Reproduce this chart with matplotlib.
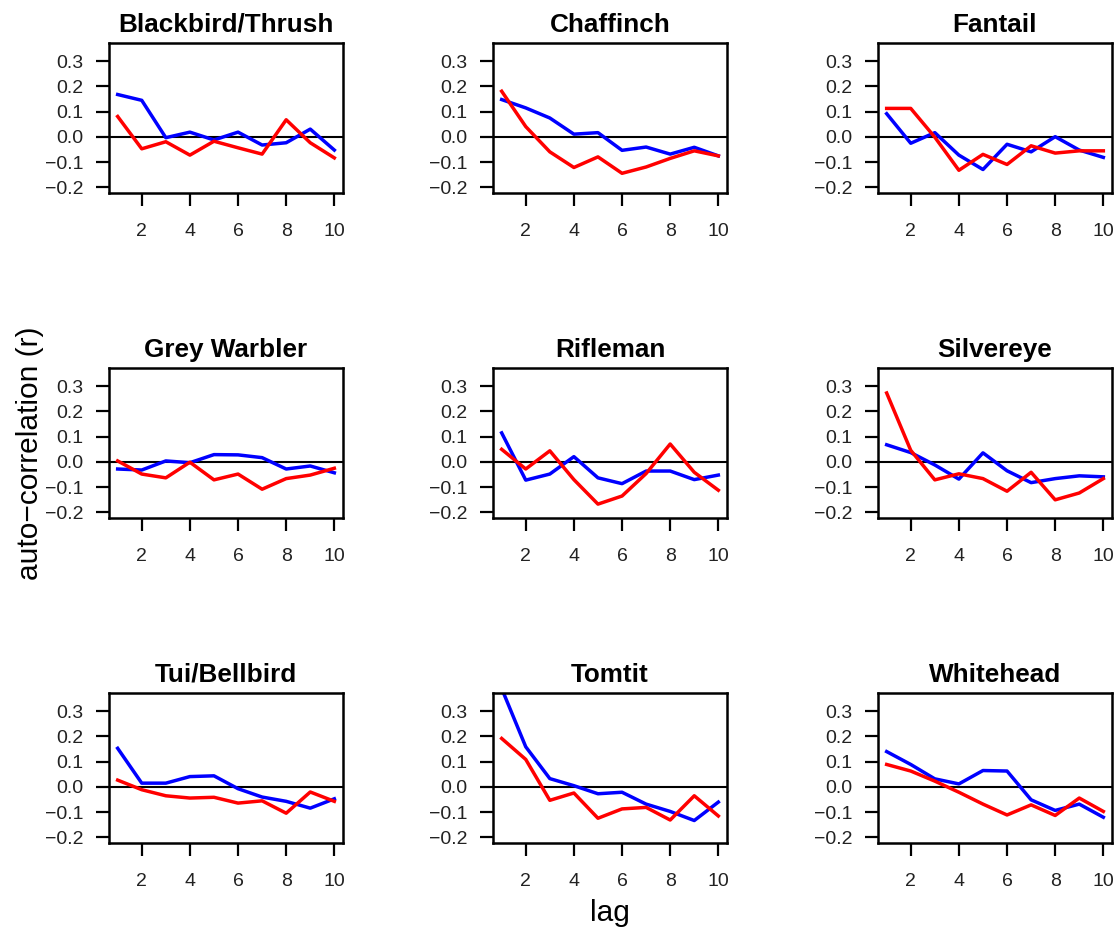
import matplotlib
matplotlib.use("Agg")
import matplotlib.pyplot as plt
import numpy as np

plt.rcParams['font.family'] = ['Liberation Sans', 'DejaVu Sans']

lags = [1, 2, 3, 4, 5, 6, 7, 8, 9, 10]
species = ["Blackbird/Thrush", "Chaffinch", "Fantail",
           "Grey Warbler", "Rifleman", "Silvereye",
           "Tui/Bellbird", "Tomtit", "Whitehead"]

blue_blackbird = [0.168, 0.145, -0.003, 0.019, -0.012, 0.019, -0.032, -0.023, 0.031, -0.052]
red_blackbird = [0.081, -0.047, -0.019, -0.072, -0.017, -0.043, -0.068, 0.068, -0.023, -0.083]
blue_chaffinch = [0.148, 0.115, 0.075, 0.011, 0.017, -0.053, -0.040, -0.068, -0.041, -0.075]
red_chaffinch = [0.181, 0.041, -0.059, -0.121, -0.079, -0.144, -0.119, -0.085, -0.055, -0.075]
blue_fantail = [0.092, -0.025, 0.017, -0.072, -0.129, -0.029, -0.059, 0.001, -0.052, -0.081]
red_fantail = [0.113, 0.113, -0.001, -0.132, -0.069, -0.109, -0.035, -0.064, -0.055, -0.055]
blue_greywarbler = [-0.028, -0.032, 0.004, -0.003, 0.029, 0.028, 0.017, -0.028, -0.016, -0.043]
red_greywarbler = [0.004, -0.048, -0.063, -0.001, -0.071, -0.048, -0.108, -0.066, -0.052, -0.025]
blue_rifleman = [0.115, -0.072, -0.048, 0.021, -0.063, -0.086, -0.036, -0.036, -0.070, -0.052]
red_rifleman = [0.050, -0.028, 0.044, -0.070, -0.167, -0.135, -0.046, 0.071, -0.041, -0.112]
blue_silvereye = [0.068, 0.037, -0.012, -0.068, 0.036, -0.035, -0.082, -0.066, -0.055, -0.059]
red_silvereye = [0.273, 0.046, -0.071, -0.047, -0.066, -0.116, -0.041, -0.150, -0.123, -0.066]
blue_tui = [0.153, 0.015, 0.015, 0.041, 0.044, -0.007, -0.040, -0.057, -0.084, -0.047]
red_tui = [0.027, -0.011, -0.035, -0.044, -0.041, -0.064, -0.055, -0.104, -0.020, -0.057]
blue_tomtit = [0.390, 0.159, 0.033, 0.005, -0.027, -0.021, -0.068, -0.097, -0.133, -0.060]
red_tomtit = [0.192, 0.109, -0.053, -0.024, -0.124, -0.087, -0.081, -0.131, -0.035, -0.115]
blue_whitehead = [0.140, 0.089, 0.032, 0.012, 0.065, 0.063, -0.051, -0.093, -0.068, -0.120]
red_whitehead = [0.089, 0.063, 0.023, -0.021, -0.068, -0.111, -0.071, -0.113, -0.044, -0.097]

blue_series = [blue_blackbird, blue_chaffinch, blue_fantail, blue_greywarbler,
               blue_rifleman, blue_silvereye, blue_tui, blue_tomtit, blue_whitehead]
red_series = [red_blackbird, red_chaffinch, red_fantail, red_greywarbler,
              red_rifleman, red_silvereye, red_tui, red_tomtit, red_whitehead]

yticks = [-0.2, -0.1, 0.0, 0.1, 0.2, 0.3]
xticks = [2, 4, 6, 8, 10]

W, H = 1119, 936
fig = plt.figure(figsize=(W / 100, H / 100), dpi=100)

col_left = [109, 493, 878]
row_top = [43, 368, 693]
aw, ah = 234, 150

for i, name in enumerate(species):
    r, c = divmod(i, 3)
    left = col_left[c] / W
    bottom = 1 - (row_top[r] + ah) / H
    ax = fig.add_axes([left, bottom, aw / W, ah / H])
    ax.axhline(0, color='black', lw=1.5, zorder=1)
    ax.plot(lags, blue_series[i], color='#0000FF', lw=2.5, zorder=2)
    ax.plot(lags, red_series[i], color='#FF0000', lw=2.5, zorder=3)
    ax.set_xlim(0.64, 10.36)
    ax.set_ylim(-0.222, 0.372)
    ax.set_xticks(xticks)
    ax.set_yticks(yticks)
    ax.set_yticklabels([f"{v:.1f}".replace('-', '\u2212') for v in yticks])
    ax.tick_params(axis='both', direction='out', length=9.4, width=1.6,
                   labelsize=14, colors='black', labelcolor='#222222')
    ax.tick_params(axis='x', pad=12)
    ax.tick_params(axis='y', pad=9)
    for s in ax.spines.values():
        s.set_linewidth(1.8)
    ax.set_title(name, fontsize=18.8, fontweight='bold', pad=8)

fig.text(30 / W, 1 - 453 / H, "auto\u2212correlation (r)", rotation=90,
         ha='center', va='center', fontsize=21.5)
fig.text(610 / W, 1 - 913 / H, "lag", ha='center', va='center', fontsize=21.5)

fig.savefig("out.png", dpi=100)
